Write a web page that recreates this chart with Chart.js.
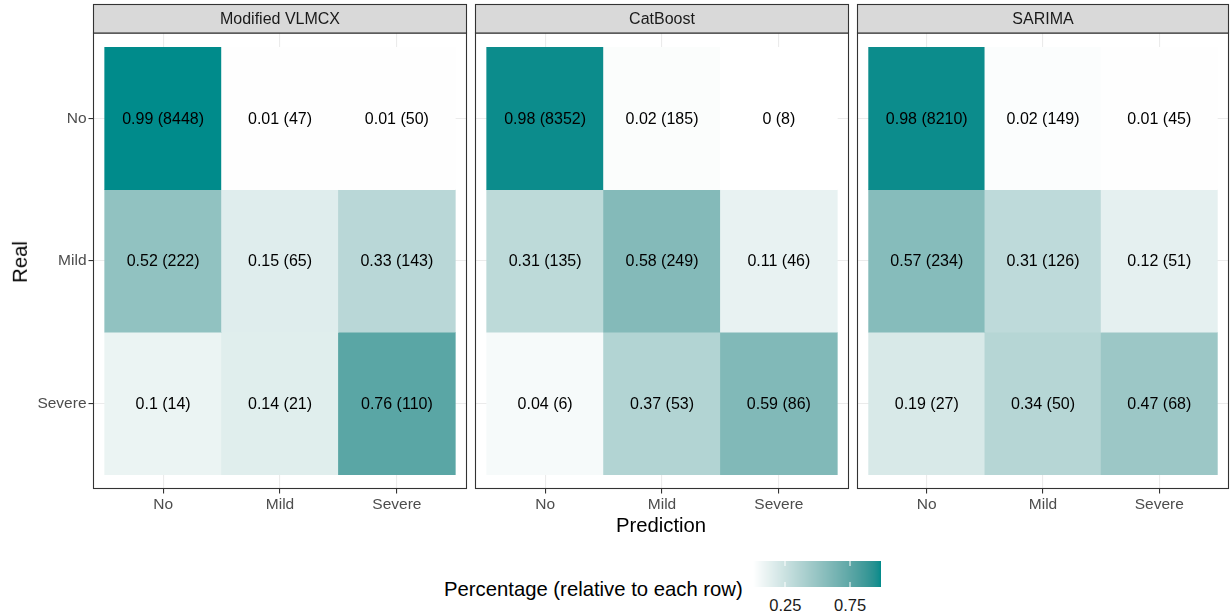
<!DOCTYPE html>
<html><head><meta charset="utf-8">
<script src="https://cdn.jsdelivr.net/npm/chart.js@4/dist/chart.umd.min.js"></script>
<style>
html,body{margin:0;padding:0;background:#fff}
body{width:1230px;height:615px;position:relative;overflow:hidden;font-family:"Liberation Sans",Arial,sans-serif}
canvas{position:absolute;top:0}
.t{position:absolute;white-space:nowrap;line-height:1;transform:translate(-50%,-50%)}
</style></head><body>
<canvas id="p0" width="468" height="520" style="left:0px"></canvas>
<canvas id="p1" width="381" height="520" style="left:470px"></canvas>
<canvas id="p2" width="378" height="520" style="left:852px"></canvas>
<div class="t" style="left:20px;top:262px;font-size:20.3px;transform:translate(-50%,-50%) rotate(-90deg)">Real</div>
<div class="t" style="left:661px;top:525px;font-size:20.3px">Prediction</div>
<div class="t" style="left:444px;top:589px;font-size:20.3px;transform:translate(0,-50%)">Percentage (relative to each row)</div>
<canvas id="cbar" width="128" height="26" style="left:753px;top:561px"></canvas>
<div id="cbarLabels"></div>
<script>
// ---- data ----
const models = ["Modified VLMCX", "CatBoost", "SARIMA"];
const realClasses = ["No", "Mild", "Severe"];
const predClasses = ["No", "Mild", "Severe"];
const vlmcxPct    = [[0.99, 0.01, 0.01], [0.52, 0.15, 0.33], [0.1, 0.14, 0.76]];
const vlmcxCounts = [[8448, 47, 50], [222, 65, 143], [14, 21, 110]];
const catboostPct    = [[0.98, 0.02, 0], [0.31, 0.58, 0.11], [0.04, 0.37, 0.59]];
const catboostCounts = [[8352, 185, 8], [135, 249, 46], [6, 53, 86]];
const sarimaPct    = [[0.98, 0.02, 0.01], [0.57, 0.31, 0.12], [0.19, 0.34, 0.47]];
const sarimaCounts = [[8210, 149, 45], [234, 126, 51], [27, 50, 68]];
const legendTicks = [0.25, 0.75];

const pctSets = [vlmcxPct, catboostPct, sarimaPct];
const countSets = [vlmcxCounts, catboostCounts, sarimaCounts];

// row-relative shares from the counts
const shareSets = countSets.map(m => m.map(row => { const s = row.reduce((a, b) => a + b, 0); return row.map(v => v / s); }));
const allShares = shareSets.flat(2);
const lo = Math.min(...allShares), hi = Math.max(...allShares);

// ---- colour scale: white -> darkcyan interpolated in CIELab ----
function s2l(c){c/=255;return c<=0.04045?c/12.92:Math.pow((c+0.055)/1.055,2.4);}
function l2s(c){c=c<=0.0031308?12.92*c:1.055*Math.pow(c,1/2.4)-0.055;return Math.round(Math.max(0,Math.min(1,c))*255);}
function rgb2lab(r,g,b){const R=s2l(r),G=s2l(g),B=s2l(b);
  const X=(0.4124*R+0.3576*G+0.1805*B)/0.95047,Y=0.2126*R+0.7152*G+0.0722*B,Z=(0.0193*R+0.1192*G+0.9505*B)/1.08883;
  const f=t=>t>0.008856?Math.cbrt(t):7.787*t+16/116;
  const fx=f(X),fy=f(Y),fz=f(Z);return [116*fy-16,500*(fx-fy),200*(fy-fz)];}
function lab2rgb(L,a,b){const fy=(L+16)/116,fx=fy+a/500,fz=fy-b/200;
  const fi=t=>t*t*t>0.008856?t*t*t:(t-16/116)/7.787;
  const X=fi(fx)*0.95047,Y=fi(fy),Z=fi(fz)*1.08883;
  const R=3.2406*X-1.5372*Y-0.4986*Z,G=-0.9689*X+1.8758*Y+0.0415*Z,B=0.0557*X-0.2040*Y+1.0570*Z;
  return `rgb(${l2s(R)},${l2s(G)},${l2s(B)})`;}
const LOW = rgb2lab(255,255,255), HIGH = rgb2lab(0,139,139);
function colorFor(v){const t=Math.max(0,Math.min(1,(v-lo)/(hi-lo)));
  return lab2rgb(LOW[0]+(HIGH[0]-LOW[0])*t,LOW[1]+(HIGH[1]-LOW[1])*t,LOW[2]+(HIGH[2]-LOW[2])*t);}

const FONT = '"Liberation Sans", Arial, sans-serif';

const panelDecor = {
  id: 'panelDecor',
  afterDatasetsDraw(chart, args, o) {
    const ctx = chart.ctx, a = chart.chartArea;
    ctx.save();
    // cell labels
    ctx.fillStyle = '#000';
    ctx.font = '16px ' + FONT;
    ctx.textAlign = 'center';
    ctx.textBaseline = 'middle';
    chart.data.datasets.forEach((ds, r) => {
      chart.getDatasetMeta(r).data.forEach((el, j) => {
        const p = el.getCenterPoint();
        ctx.fillText(`${o.pct[r][j]} (${o.counts[r][j]})`, p.x, p.y + 1);
      });
    });
    // panel border
    ctx.strokeStyle = '#333333';
    ctx.lineWidth = 1.1;
    ctx.strokeRect(a.left + 0.5, a.top, a.right - a.left - 1, a.bottom - a.top - 0.5);
    // strip
    ctx.fillStyle = '#D9D9D9';
    ctx.fillRect(a.left + 0.5, 4.5, a.right - a.left - 1, a.top - 4.5);
    ctx.strokeRect(a.left + 0.5, 4.5, a.right - a.left - 1, a.top - 4.5);
    ctx.fillStyle = '#1A1A1A';
    ctx.font = '16px ' + FONT;
    ctx.fillText(o.title, (a.left + a.right) / 2, 19.5);
    ctx.restore();
  }
};

function makePanel(i) {
  const first = i === 0;
  const datasets = realClasses.map((rc, r) => ({
    label: rc,
    data: predClasses.map((pc, j) => ({ x: j, y: [(realClasses.length - 1 - r) - 0.5, (realClasses.length - 1 - r) + 0.5] })),
    backgroundColor: predClasses.map((pc, j) => colorFor(shareSets[i][r][j])),
    borderWidth: 0,
    barPercentage: 1,
    categoryPercentage: 1,
    grouped: false
  }));
  const fixTicks = n => s => { s.ticks = n.map((_, k) => ({ value: k })); };
  new Chart(document.getElementById('p' + i), {
    type: 'bar',
    data: { datasets },
    plugins: [panelDecor],
    options: {
      responsive: false,
      animation: false,
      devicePixelRatio: 1,
      layout: { padding: { left: first ? 0 : 5, right: i === 1 ? 2 : 1, top: 33, bottom: 0 } },
      plugins: {
        legend: { display: false },
        tooltip: { enabled: false },
        panelDecor: { title: models[i], pct: pctSets[i], counts: countSets[i] }
      },
      scales: {
        x: {
          type: 'linear', min: -0.6, max: 2.6, offset: false,
          afterBuildTicks: fixTicks(predClasses),
          afterFit: s => { s.height = 31; },
          grid: { offset: false, color: '#EBEBEB', lineWidth: 1.1, tickColor: '#333333', tickLength: 4.5, tickWidth: 1.1 },
          border: { display: false },
          ticks: { callback: v => predClasses[v], color: '#4D4D4D', font: { family: FONT, size: 15.5 }, padding: 2, maxRotation: 0, autoSkip: false }
        },
        y: {
          type: 'linear', min: -0.6, max: 2.6, offset: false,
          afterBuildTicks: fixTicks(realClasses),
          afterFit: s => { s.width = first ? 93 : 0; },
          grid: { offset: false, color: '#EBEBEB', lineWidth: 1.1, tickColor: '#333333', tickLength: 4.5, tickWidth: 1.1, drawTicks: first },
          border: { display: false },
          ticks: { display: first, callback: v => realClasses[realClasses.length - 1 - v], color: '#4D4D4D', font: { family: FONT, size: 15.5 }, padding: 2, autoSkip: false }
        }
      }
    }
  });
}
models.forEach((m, i) => makePanel(i));

// ---- colour bar legend ----
(function () {
  const cv = document.getElementById('cbar'), ctx = cv.getContext('2d');
  const W = cv.width, H = cv.height;
  for (let x = 0; x < W; x++) {
    ctx.fillStyle = colorFor(lo + (hi - lo) * (x + 0.5) / W);
    ctx.fillRect(x, 0, 1, H);
  }
  const holder = document.getElementById('cbarLabels');
  legendTicks.forEach(v => {
    const px = (v - lo) / (hi - lo) * W;
    ctx.fillStyle = '#fff';
    ctx.fillRect(Math.round(px) - 0.5, 0, 1, 5);
    ctx.fillRect(Math.round(px) - 0.5, H - 5, 1, 5);
    const d = document.createElement('div');
    d.className = 't';
    d.style.left = (753 + px) + 'px';
    d.style.top = '605px';
    d.style.fontSize = '16.5px';
    d.style.color = '#1A1A1A';
    d.textContent = String(v);
    holder.appendChild(d);
  });
})();
</script>
</body></html>
